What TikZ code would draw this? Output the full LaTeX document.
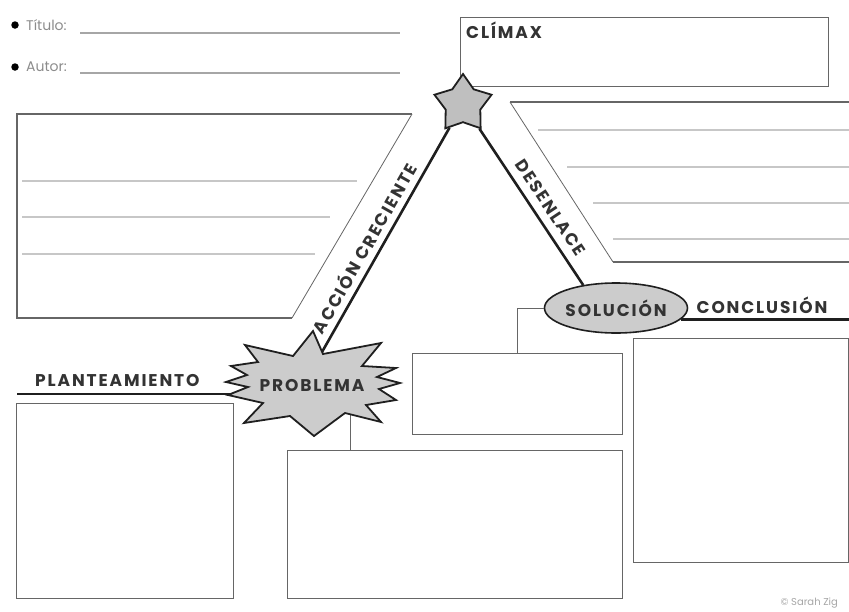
\documentclass[tikz,border=0pt]{standalone}
\usepackage{fontspec}
\newfontfamily\gothic{Poppins}[LetterSpace=11]
\newfontfamily\plainsans{Poppins}
\usetikzlibrary{positioning,shapes.geometric}

\tikzset{
  frame/.style={draw=black!60, line width=1.3pt},
  rule/.style={draw=black!22, line width=1.1pt},
  edge/.style={draw=black!60, line width=0.8pt},
  leg/.style={draw=black!88, line width=2.6pt},
  tag/.style={font=\gothic\bfseries\fontsize{17}{17}\selectfont, text=black!80, inner sep=2pt},
  field/.style={font=\plainsans\fontsize{14}{14}\selectfont, text=black!45, inner sep=1pt},
  dot/.style={circle, fill=black, minimum size=7.5pt, inner sep=0pt},
  burst/.style={fill=black!20, draw=black!88, line width=1.8pt, line join=miter},
}

\begin{document}
\begin{tikzpicture}[x=1pt, y=-1pt]
\useasboundingbox (0,0) rectangle (849,611);

\node[dot] (titdot) at (15,25) {};
\node[field, anchor=west] (titlbl) at (25,25) {Título:};
\coordinate (titstart) at (80,33);
\coordinate (titend) at (400,33);
\draw[rule, draw=black!35] (titstart) -- (titend);
\node[dot] (autdot) at (15,67) {};
\node[field, anchor=west] (autlbl) at (25,67) {Autor:};
\coordinate (autstart) at (80,73);
\coordinate (autend) at (400,73);
\draw[rule, draw=black!35] (autstart) -- (autend);

\node[frame, anchor=north west, minimum width=368pt, minimum height=69pt] (climaxbox) at (460,17) {};
\node[tag, below right=3pt and 4pt of climaxbox.north west] (climax) {CLÍMAX};

% bloques con renglones
\draw[frame] (412,114) -- (17,114) -- (17,318) -- (292,318);
\draw[edge] (412,114) -- (292,318);
\foreach \y/\x in {181/357, 217/330, 254/315}
  \draw[rule] (22,\y) -- (\x,\y);
\draw[frame] (849,102) -- (510,102);
\draw[edge] (510,102) -- (613,262);
\draw[frame] (613,262) -- (849,262);
\foreach \y/\x in {130/538, 167/567, 203/593, 239/613}
  \draw[rule] (\x,\y) -- (849,\y);

\node[frame, anchor=north west, minimum width=217pt, minimum height=195pt] (setupbox) at (16,403) {};
\node[frame, anchor=north west, minimum width=335pt, minimum height=148pt] (lowbox) at (287,450) {};
\node[frame, anchor=north west, minimum width=210pt, minimum height=81pt] (solbox) at (412,353) {};
\node[frame, anchor=north west, minimum width=215pt, minimum height=224pt] (endbox) at (633,338) {};

\node[star, star points=5, star point ratio=1.65, minimum size=60pt, inner sep=0pt,
  fill=black!25, draw=black!88, line width=1.8pt] (peak) at (463,104) {};
\node[ellipse, tag, fill=black!20, draw=black!88, line width=1.6pt,
  minimum width=132pt, minimum height=50pt, inner sep=0pt] (solucion) at (616,308) {SOLUCIÓN};

\coordinate (probtop) at (322,352);
\coordinate (probfoot) at (350,412);
\coordinate (plantstart) at (17,394);
\coordinate (probleft) at (240,394);
\coordinate (concend) at (849,318);

\draw[leg] (peak) -- node[tag, sloped, above=4pt, pos=0.57] (rising) {ACCIÓN CRECIENTE} (probtop);
\draw[leg] (peak) -- node[tag, sloped, above=6pt, pos=0.56] (falling) {DESENLACE} (solucion.145);
\draw[leg] (plantstart) -- (probleft);
\draw[leg] (solucion.-10) -- (solucion.-10 -| concend);
\draw[edge] (solucion.west) -| (solbox.north);
\draw[edge] (probfoot) -- (probfoot |- lowbox.north);

\node[tag, above right=5pt and 16pt of plantstart] (plant) {PLANTEAMIENTO};
\node[tag] (conclusion) at (762,305) {CONCLUSIÓN};

\draw[burst] (313,331) -- (323,354) -- (381,343) -- (362,366) -- (396,368) -- (377,377)
  -- (400,383) -- (379,389) -- (396,400) -- (366,405) -- (381,422) -- (345,413)
  -- (314,436) -- (290,416) -- (244,423) -- (263,403) -- (228,395) -- (248,387)
  -- (226,382) -- (247,375) -- (231,366) -- (258,362) -- (245,345) -- (293,356) -- cycle;
\node[tag] (problema) at (312,386) {PROBLEMA};

\node[font=\plainsans\fontsize{10}{10}\selectfont, text=black!35, anchor=west] (credit) at (777,603) {\textcopyright\ Sarah Zig};
\end{tikzpicture}
\end{document}
